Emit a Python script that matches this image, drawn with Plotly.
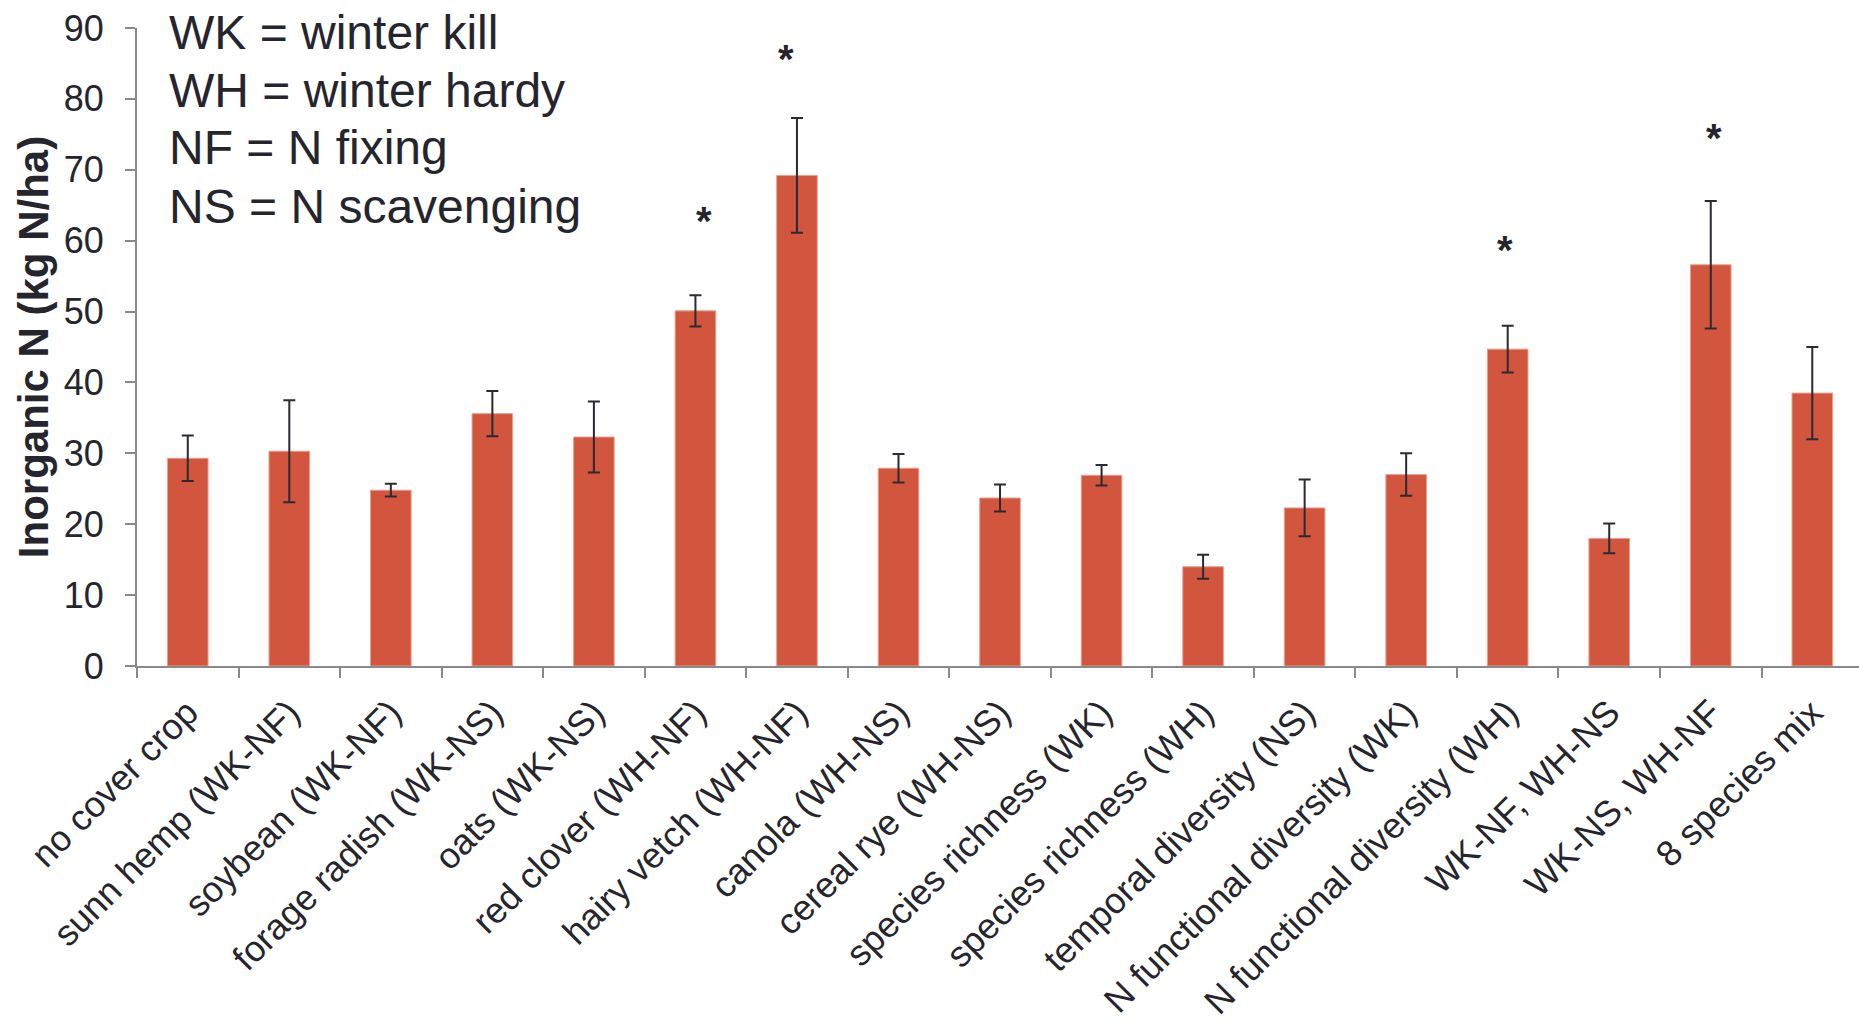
import plotly.graph_objects as go

# Cover crop treatments and measured soil inorganic N
categories = [
    "no cover crop", "sunn hemp (WK-NF)", "soybean (WK-NF)", "forage radish (WK-NS)",
    "oats (WK-NS)", "red clover (WH-NF)", "hairy vetch (WH-NF)", "canola (WH-NS)",
    "cereal rye (WH-NS)", "species richness (WK)", "species richness (WH)",
    "temporal diversity (NS)", "N functional diversity (WK)", "N functional diversity (WH)",
    "WK-NF, WH-NS", "WK-NS, WH-NF", "8 species mix",
]
inorganic_n = [29.3, 30.3, 24.8, 35.6, 32.3, 50.1, 69.2, 27.9, 23.7, 26.9, 14.0,
               22.3, 27.0, 44.7, 18.0, 56.6, 38.5]
std_err = [3.2, 7.2, 0.9, 3.2, 5.0, 2.2, 8.1, 2.0, 1.9, 1.45, 1.7,
           4.0, 3.0, 3.3, 2.1, 9.0, 6.5]

# Significance markers: treatment, height of the asterisk
star_treatments = ["red clover (WH-NF)", "hairy vetch (WH-NF)",
                   "N functional diversity (WH)", "WK-NS, WH-NF"]
star_heights = [63.4, 86.2, 59.2, 75.0]
star_xshift = [9, -11, -3, 3]

y_ticks = [0, 10, 20, 30, 40, 50, 60, 70, 80, 90]

legend_lines = ["WK = winter kill", "WH = winter hardy", "NF = N fixing", "NS = N scavenging"]
legend_y = [0.993, 0.902, 0.812, 0.721]

FONT = "Arial, Liberation Sans, sans-serif"
TEXT = "#25252d"
AXIS = "#8a8a8a"
BAR = "#d2553e"

fig = go.Figure(
    go.Bar(
        x=categories,
        y=inorganic_n,
        width=0.4,
        marker=dict(color=BAR, line=dict(color="#eaa08f", width=1)),
        error_y=dict(type="data", array=std_err, visible=True,
                     color="#2a2a33", thickness=2, width=6),
    )
)

for name, h, dx in zip(star_treatments, star_heights, star_xshift):
    fig.add_annotation(
        x=name, y=h, text="<b>*</b>", showarrow=False, xshift=dx, yshift=-4,
        yanchor="middle", font=dict(family=FONT, size=40, color=TEXT),
    )

for line, ly in zip(legend_lines, legend_y):
    fig.add_annotation(
        xref="paper", yref="paper", x=0.0172, y=ly,
        xanchor="left", yanchor="middle", align="left", showarrow=False,
        text=line, font=dict(family=FONT, size=48, color=TEXT),
    )

fig.update_layout(
    width=1859, height=1029,
    margin=dict(l=137, r=0, t=28, b=363),
    plot_bgcolor="white", paper_bgcolor="white",
    showlegend=False,
    font=dict(family=FONT, color=TEXT),
)

fig.update_xaxes(
    type="category", range=[-0.5, 16.46], automargin=False,
    showline=True, linecolor=AXIS, linewidth=2,
    ticks="outside", tickson="boundaries", ticklen=10, tickcolor=AXIS, tickwidth=2,
    tickangle=-45, ticklabelstandoff=9,
    tickfont=dict(family=FONT, size=36, color=TEXT),
    showgrid=False,
)

fig.update_yaxes(
    range=[0, 90], tickvals=y_ticks, automargin=False,
    showline=True, linecolor=AXIS, linewidth=2,
    ticks="outside", ticklen=10, tickcolor=AXIS, tickwidth=2,
    ticklabelstandoff=14,
    tickfont=dict(family=FONT, size=36, color=TEXT),
    showgrid=False, zeroline=False,
    title=dict(text="<b>Inorganic N (kg N/ha)</b>", standoff=2,
               font=dict(family=FONT, size=42, color=TEXT)),
)

fig.write_html("out.html")
